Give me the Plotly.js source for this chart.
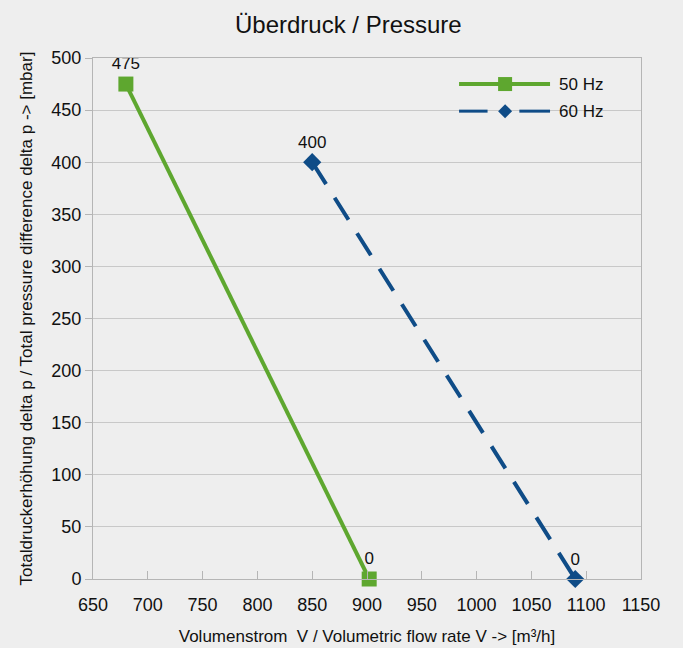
<!DOCTYPE html>
<html>
<head>
<meta charset="utf-8">
<script src="https://cdn.plot.ly/plotly-3.0.1.min.js"></script>
<style>
html,body{margin:0;padding:0;background:#eeeeee;}
#chart{width:683px;height:648px;}
</style>
</head>
<body>
<div id="chart"></div>
<script>
var seriesNames = ["50 Hz", "60 Hz"];
var flow50 = [680, 902];
var pressure50 = [475, 0];
var flow60 = [850, 1090];
var pressure60 = [400, 0];
var xTicks = [650, 700, 750, 800, 850, 900, 950, 1000, 1050, 1100, 1150];
var yTicks = [0, 50, 100, 150, 200, 250, 300, 350, 400, 450, 500];

var font = "Liberation Sans, Arial, sans-serif";
var green = "#5ea72f";
var blue = "#0f4c87";

var traces = [
  {
    x: flow50, y: pressure50, name: seriesNames[0],
    mode: "lines+markers+text",
    text: pressure50.map(String), textposition: "top center",
    textfont: {family: font, size: 17, color: "#111"},
    line: {color: green, width: 4},
    marker: {symbol: "square", size: 15, color: green},
    cliponaxis: false, showlegend: false
  },
  {
    x: flow60, y: pressure60, name: seriesNames[1],
    mode: "lines+markers+text",
    text: pressure60.map(String), textposition: "top center",
    textfont: {family: font, size: 17, color: "#111"},
    line: {color: blue, width: 4, dash: "26px,16px"},
    marker: {symbol: "diamond", size: 14, color: blue},
    cliponaxis: false, showlegend: false
  }
];

// Custom legend (longer sample lines as in the reference)
var lx0 = 0.668, lx1 = 0.834, lmx = 0.752, ltx = 0.846;
var ly = [0.950, 0.898];
var shapes = [
  {type: "line", xref: "paper", yref: "paper", x0: lx0, x1: lx1, y0: ly[0], y1: ly[0], line: {color: green, width: 4}},
  {type: "rect", xref: "paper", yref: "paper", xsizemode: "pixel", ysizemode: "pixel", xanchor: lmx, yanchor: ly[0], x0: -7, x1: 7, y0: -7, y1: 7, fillcolor: green, line: {width: 0}},
  {type: "line", xref: "paper", yref: "paper", x0: lx0, x1: lx0 + 0.052, y0: ly[1], y1: ly[1], line: {color: blue, width: 3}},
  {type: "line", xref: "paper", yref: "paper", x0: lx1 - 0.056, x1: lx1, y0: ly[1], y1: ly[1], line: {color: blue, width: 3}},
  {type: "path", xref: "paper", yref: "paper", xsizemode: "pixel", ysizemode: "pixel", xanchor: lmx, yanchor: ly[1], path: "M -7 0 L 0 7 L 7 0 L 0 -7 Z", fillcolor: blue, line: {width: 0}}
];
var annotations = [
  {xref: "paper", yref: "paper", x: ltx, y: ly[0], text: seriesNames[0], showarrow: false, xanchor: "left", yanchor: "middle", font: {family: font, size: 17, color: "#111"}},
  {xref: "paper", yref: "paper", x: ltx, y: ly[1], text: seriesNames[1], showarrow: false, xanchor: "left", yanchor: "middle", font: {family: font, size: 17, color: "#111"}}
];

var layout = {
  width: 683, height: 648,
  paper_bgcolor: "#eeeeee", plot_bgcolor: "#eeeeee",
  margin: {l: 93, r: 42, t: 58, b: 69},
  font: {family: font, size: 17, color: "#111"},
  title: {text: "Überdruck / Pressure", font: {family: font, size: 24, color: "#111"}, x: 0.51, xanchor: "center", y: 0.962, yanchor: "middle"},
  showlegend: false,
  shapes: shapes,
  annotations: annotations,
  xaxis: {
    range: [650, 1150], tickvals: xTicks, ticktext: xTicks.map(String),
    showgrid: false, zeroline: false,
    showline: true, linecolor: "#b5b5b5", linewidth: 1, mirror: true,
    ticks: "inside", ticklen: 8, tickcolor: "#b5b5b5",
    ticklabelstandoff: 9,
    tickfont: {family: font, size: 18, color: "#111"},
    title: {text: "Volumenstrom  V / Volumetric flow rate V -> [m³/h]", font: {family: font, size: 17, color: "#111"}, standoff: 16}
  },
  yaxis: {
    range: [0, 500], tickvals: yTicks, ticktext: yTicks.map(String),
    showgrid: true, gridcolor: "#c8c8c8", gridwidth: 1, zeroline: false,
    showline: true, linecolor: "#b5b5b5", linewidth: 1, mirror: true,
    ticks: "outside", ticklen: 7, tickcolor: "#b5b5b5",
    tickfont: {family: font, size: 18, color: "#111"},
    title: {text: "Totaldruckerhöhung delta p / Total pressure difference delta p -> [mbar]", font: {family: font, size: 17, color: "#111"}, standoff: 14}
  }
};

Plotly.newPlot("chart", traces, layout, {displayModeBar: false, staticPlot: true});
</script>
</body>
</html>
